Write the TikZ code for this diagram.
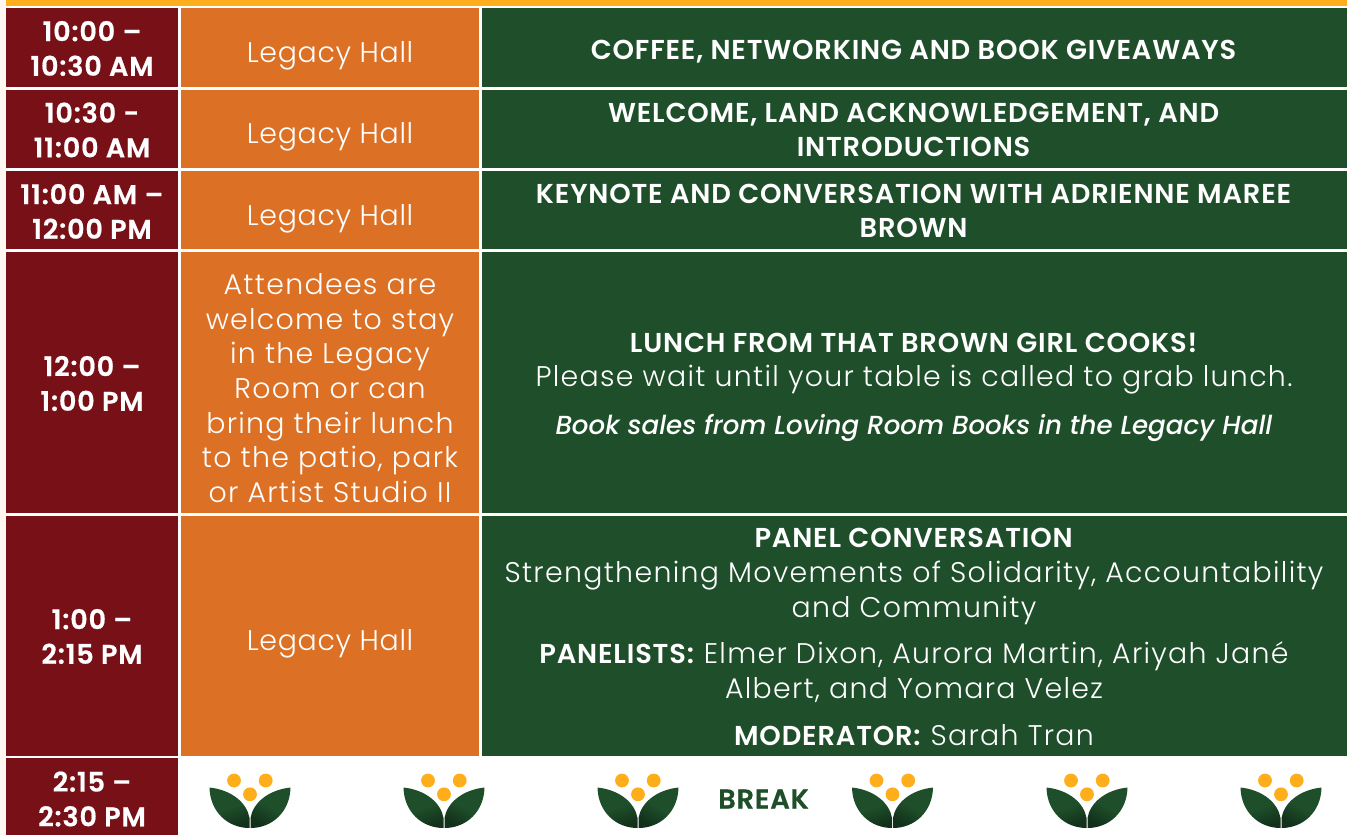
\documentclass[tikz,border=0pt]{standalone}
\usepackage{fontspec}
\setmainfont{Poppins}[UprightFont=* Light,BoldFont=* SemiBold,ItalicFont=* Medium Italic,UprightFeatures={LetterSpace=4.6},BoldFeatures={LetterSpace=3}]
\newfontfamily\hallfont{Poppins Light}[LetterSpace=2.5]
\newfontfamily\timefont{Poppins SemiBold}[LetterSpace=3,FakeBold=0.6]
\definecolor{maroon}{HTML}{781018}
\definecolor{orangecell}{HTML}{DC7126}
\definecolor{greencell}{HTML}{1E4E2A}
\definecolor{darkleaf}{HTML}{12301A}
\definecolor{sun}{HTML}{FDAE1A}
\definecolor{cream}{HTML}{FFF8F0}
\tikzset{
  x=0.75pt,y=-0.75pt,
  cell/.style={inner sep=0pt,outer sep=0pt,anchor=north west,text=white},
  timetxt/.style={text=white,align=center,inner sep=0pt,font=\fontsize{20.3}{26}\timefont},
  halltxt/.style={text=white,align=center,inner sep=0pt,font=\fontsize{21.3}{26}\selectfont},
  maintxt/.style={text=white,align=center,inner sep=0pt,font=\fontsize{21.3}{26}\selectfont},
  flower/.pic={
    \shade[top color=greencell,bottom color=darkleaf,middle color=greencell,shading angle=20] (-40.5,-12.5) .. controls (-18,-10) and (-3,3) .. (-0.5,18) -- (-0.5,28) .. controls (-22,28) and (-40,12) .. cycle;
    \shade[top color=greencell,bottom color=darkleaf,middle color=greencell,shading angle=-30] (40.5,-12.5) .. controls (18,-10) and (3,3) .. (0.5,18) -- (0.5,28) .. controls (22,28) and (40,12) .. cycle;
    \fill[sun] (-16,-19.5) circle[radius=6.9];
    \fill[sun] (15.7,-19.5) circle[radius=6.9];
    \fill[sun] (0,-5.7) circle[radius=6.9];
  }
}
\newcommand{\boxcell}[6]{\node[cell,fill=#2,minimum width=#5*0.75pt,minimum height=#6*0.75pt] (#1) at (#3,#4) {};}
\newcommand{\itline}[1]{{\fontsize{19.6}{26}\selectfont\textit{#1}}}
\newcommand{\hd}[1]{{\fontsize{20.5}{26}\selectfont\textbf{#1}}}
\begin{document}
\begin{tikzpicture}
\useasboundingbox (0,0) rectangle (1347,835);
\fill[white] (0,0) rectangle (1347,835);
\fill[cream] (0,0) rectangle (6,835);
\node[cell,fill=sun,minimum width=1341*0.75pt,minimum height=5.5*0.75pt] (topbar) at (6,0) {};
\boxcell{t1}{maroon}{6}{8}{172}{79}
\boxcell{t2}{maroon}{6}{90}{172}{78}
\boxcell{t3}{maroon}{6}{171}{172}{78}
\boxcell{t4}{maroon}{6}{252}{172}{261}
\boxcell{t5}{maroon}{6}{516}{172}{240}
\boxcell{t6}{maroon}{6}{758}{172}{77}
\boxcell{h1}{orangecell}{181}{8}{298}{79}
\boxcell{h2}{orangecell}{181}{90}{298}{78}
\boxcell{h3}{orangecell}{181}{171}{298}{78}
\boxcell{h4}{orangecell}{181}{252}{298}{261}
\boxcell{h5}{orangecell}{181}{516}{298}{240}
\boxcell{m1}{greencell}{482}{8}{865}{79}
\boxcell{m2}{greencell}{482}{90}{865}{78}
\boxcell{m3}{greencell}{482}{171}{865}{78}
\boxcell{m4}{greencell}{482}{252}{865}{261}
\boxcell{m5}{greencell}{482}{516}{865}{240}
\node[timetxt] (tt1) at (92,48.5) {10:00 –\\10:30 AM};
\node[timetxt] (tt2) at (92,130) {10:30 -\\11:00 AM};
\node[timetxt] (tt3) at (92,211.5) {11:00 AM –\\12:00 PM};
\node[timetxt] (tt4) at (92,383.5) {12:00 –\\1:00 PM};
\node[timetxt] (tt5) at (92,636.5) {1:00 –\\2:15 PM};
\node[timetxt] (tt6) at (92,799) {2:15 –\\2:30 PM};
\node[halltxt] (ht1) at (330,56) {\hallfont Legacy Hall};
\node[halltxt] (ht2) at (330,137) {\hallfont Legacy Hall};
\node[halltxt] (ht3) at (330,219) {\hallfont Legacy Hall};
\node[halltxt] (ht4) at (330,388) {Attendees are\\welcome to stay\\in the Legacy\\Room or can\\bring their lunch\\to the patio, park\\or Artist Studio II};
\node[halltxt] (ht5) at (330,644) {\hallfont Legacy Hall};
\node[maintxt] (mt1) at (914,52) {\hd{COFFEE, NETWORKING AND BOOK GIVEAWAYS}};
\node[maintxt] (mt2) at (914,130) {\hd{WELCOME, LAND ACKNOWLEDGEMENT, AND}\\\hd{INTRODUCTIONS}};
\node[maintxt] (mt3) at (914,211) {\hd{KEYNOTE AND CONVERSATION WITH ADRIENNE MAREE}\\\hd{BROWN}};
\node[maintxt] (mt4) at (914,387) {\hd{LUNCH FROM THAT BROWN GIRL COOKS!}\\Please wait until your table is called to grab lunch.\\[9.5pt]\itline{Book sales from Loving Room Books in the Legacy Hall}};
\node[maintxt] (mt5) at (914,637) {\hd{PANEL CONVERSATION}\\Strengthening Movements of Solidarity, Accountability\\and Community\\[9pt]\hd{PANELISTS:} Elmer Dixon, Aurora Martin, Ariyah Jané\\Albert, and Yomara Velez\\[9pt]\hd{MODERATOR:} Sarah Tran};
\pic at (250,800) {flower};
\pic at (444,800) {flower};
\pic at (638,800) {flower};
\pic at (892.5,800) {flower};
\pic at (1087,800) {flower};
\pic at (1281,800) {flower};
\node[inner sep=0pt,text=greencell,font=\fontsize{20.5}{26}\timefont] (brk) at (763.5,799) {BREAK};
\end{tikzpicture}
\end{document}
